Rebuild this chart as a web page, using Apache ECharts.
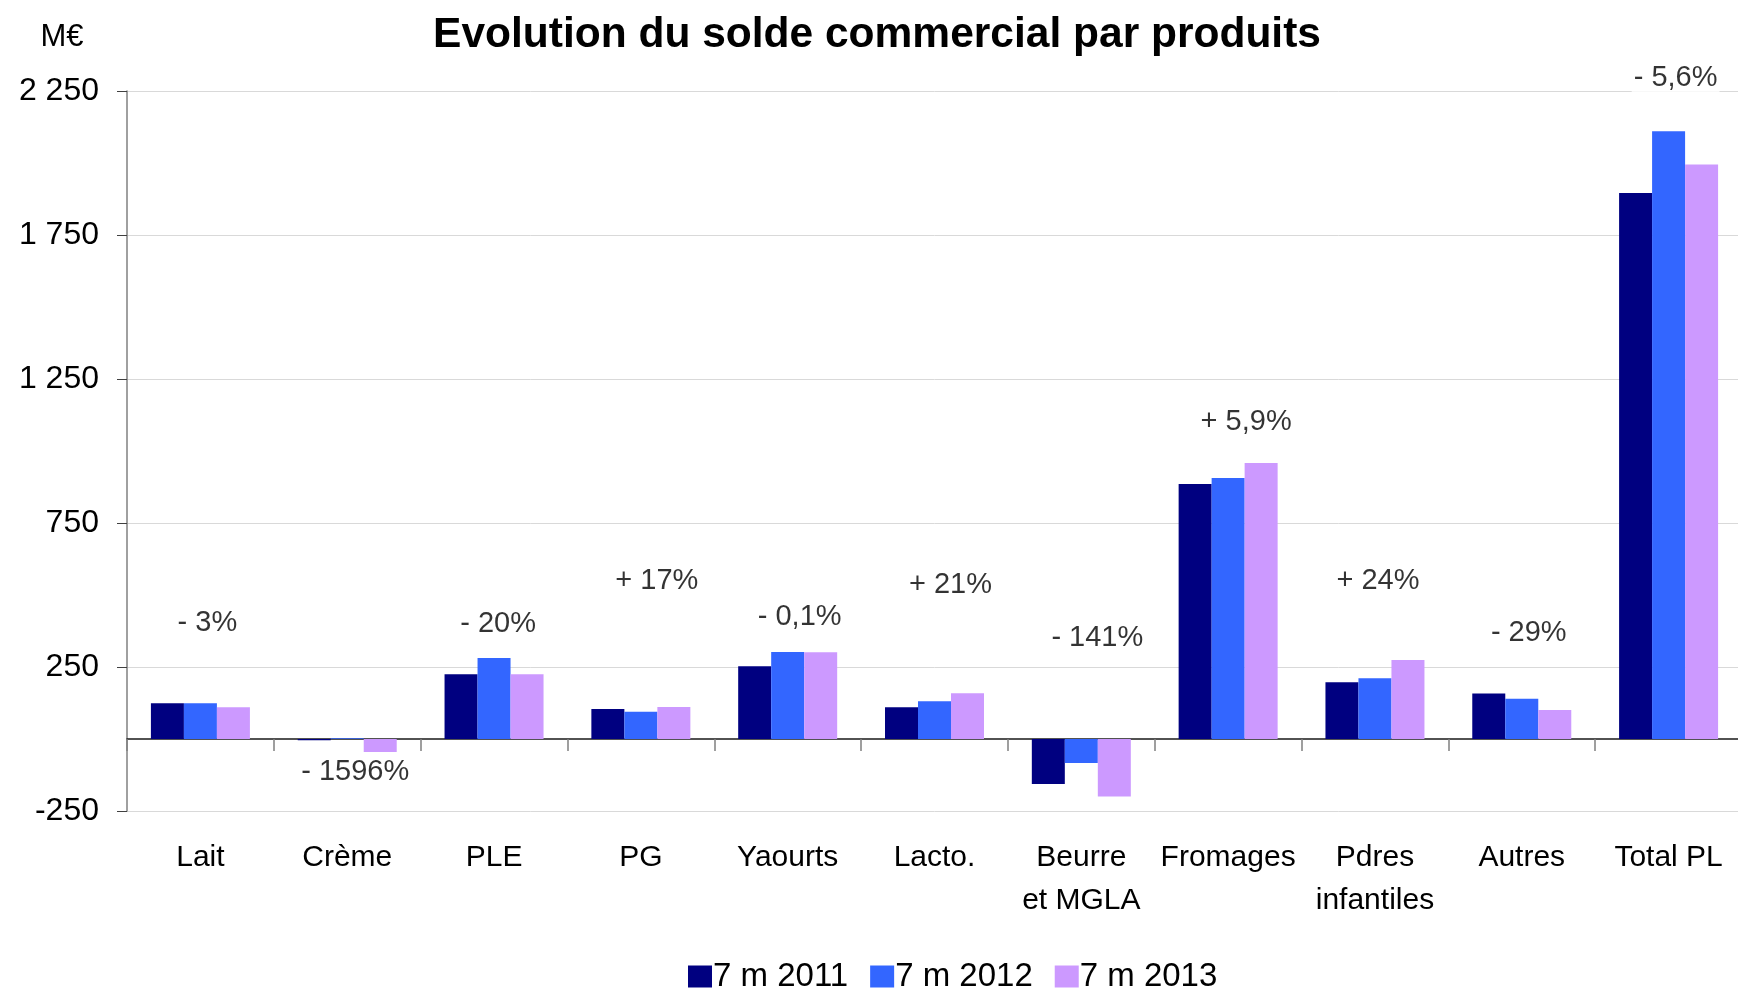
<!DOCTYPE html>
<html lang="fr">
<head>
<meta charset="utf-8">
<title>Evolution du solde commercial par produits</title>
<script src="https://cdn.jsdelivr.net/npm/echarts@6/dist/echarts.min.js"></script>
<style>
  html, body { margin: 0; padding: 0; background: #ffffff; overflow: hidden; }
  /* the plot area runs a few pixels past the right edge of the window */
  #chart { width: 1746px; height: 988px; }
</style>
</head>
<body>
<div id="chart"></div>
<script>
// Produits laitiers : solde commercial sur 7 mois (M€)
const categories = ['Lait', 'Crème', 'PLE', 'PG', 'Yaourts', 'Lacto.', 'Beurre\net MGLA', 'Fromages', 'Pdres\ninfantiles', 'Autres', 'Total PL'];
const seriesNames = ['7 m 2011', '7 m 2012', '7 m 2013'];
const solde2011 = [124, -4, 225, 104, 253, 110, -156, 885, 197, 158, 1896];
const solde2012 = [124, 3, 281, 95, 302, 131, -83, 906, 211, 140, 2110];
const solde2013 = [110, -45, 225, 111, 301, 159, -200, 958, 274, 101, 1995];
// Variation 2013 / 2012 affichée au-dessus de chaque groupe
const variations = ['- 3%', '- 1596%', '- 20%', '+ 17%', '- 0,1%', '+ 21%', '- 141%', '+ 5,9%', '+ 24%', '- 29%', '- 5,6%'];
const yTicks = { min: -250, max: 2250, step: 500 };

// Placement of the variation notes: anchor level on the value axis and horizontal nudge (px)
const noteAnchor = [402, -115, 399, 548, 423, 534, 350, 1102, 547, 368, 2296];
const noteNudge = [7, 8, 4, 16, 12, 16, 16, 18, 3, 7, 7];

const FONT = '"Liberation Sans", Arial, sans-serif';
const colors = ['#000080', '#3366FF', '#CC99FF'];

function formatThousands(v) {
  const s = String(Math.abs(v)).replace(/\B(?=(\d{3})+(?!\d))/g, ' ');
  return (v < 0 ? '-' : '') + s;
}

const chart = echarts.init(document.getElementById('chart'), null, { renderer: 'canvas' });

const barSeries = [solde2011, solde2012, solde2013].map((vals, k) => ({
  name: seriesNames[k],
  type: 'bar',
  xAxisIndex: 0,
  yAxisIndex: 0,
  data: vals,
  barWidth: 33,
  barGap: '0%',
  itemStyle: { color: colors[k] },
  emphasis: { disabled: true },
  z: 3
}));

const noteSeries = {
  name: 'variation',
  type: 'scatter',
  xAxisIndex: 0,
  yAxisIndex: 0,
  symbolSize: 0,
  silent: true,
  clip: false,
  z: 5,
  data: variations.map((txt, i) => ({
    value: [i, noteAnchor[i]],
    label: { offset: [noteNudge[i], 0] }
  })),
  label: {
    show: true,
    position: 'inside',
    formatter: p => variations[p.dataIndex],
    fontFamily: FONT,
    fontSize: 29,
    color: '#000000',
    backgroundColor: '#ffffff',
    padding: [0, 2]
  }
};

const option = {
  animation: false,
  backgroundColor: '#ffffff',
  textStyle: { fontFamily: FONT },
  grid: { left: 127, top: 91, width: 1615, height: 720, containLabel: false },
  legend: {
    data: seriesNames,
    left: 683,
    top: 955,
    itemWidth: 24,
    itemHeight: 22,
    itemGap: 22,
    icon: 'rect',
    textStyle: { fontFamily: FONT, fontSize: 33, color: '#000000', padding: [0, 0, 0, -4] }
  },
  graphic: [
    {
      type: 'text',
      style: {
        text: 'Evolution du solde commercial par produits',
        x: 877, y: 35,
        textAlign: 'center', textVerticalAlign: 'middle',
        font: 'bold 42.5px ' + FONT,
        fill: '#000000'
      }
    },
    {
      type: 'text',
      style: {
        text: 'M€',
        x: 62, y: 37,
        textAlign: 'center', textVerticalAlign: 'middle',
        font: '31px ' + FONT,
        fill: '#000000'
      }
    }
  ],
  xAxis: [
    {
      type: 'category',
      data: categories,
      boundaryGap: true,
      axisLine: { show: true, onZero: true, lineStyle: { color: '#1a1a1a', width: 1.5 } },
      axisTick: { show: true, length: 12, interval: 0, lineStyle: { color: '#808080', width: 1.5 } },
      axisLabel: { show: false },
      splitLine: { show: false }
    },
    {
      type: 'category',
      data: categories,
      position: 'bottom',
      boundaryGap: true,
      axisLine: { show: false, onZero: false },
      axisTick: { show: false },
      splitLine: { show: false },
      axisLabel: {
        show: true,
        interval: 0,
        margin: 25,
        fontFamily: FONT,
        fontSize: 30,
        lineHeight: 43,
        color: '#000000'
      }
    }
  ],
  yAxis: {
    type: 'value',
    min: yTicks.min,
    max: yTicks.max,
    interval: yTicks.step,
    axisLine: { show: true, lineStyle: { color: '#808080', width: 1.5 } },
    axisTick: { show: true, length: 10, lineStyle: { color: '#404040', width: 1 } },
    splitLine: { show: true, lineStyle: { color: '#d9d9d9', width: 1 } },
    axisLabel: {
      margin: 28,
      fontFamily: FONT,
      fontSize: 32,
      color: '#000000',
      formatter: formatThousands
    }
  },
  series: [...barSeries, noteSeries]
};

chart.setOption(option);
</script>
</body>
</html>
